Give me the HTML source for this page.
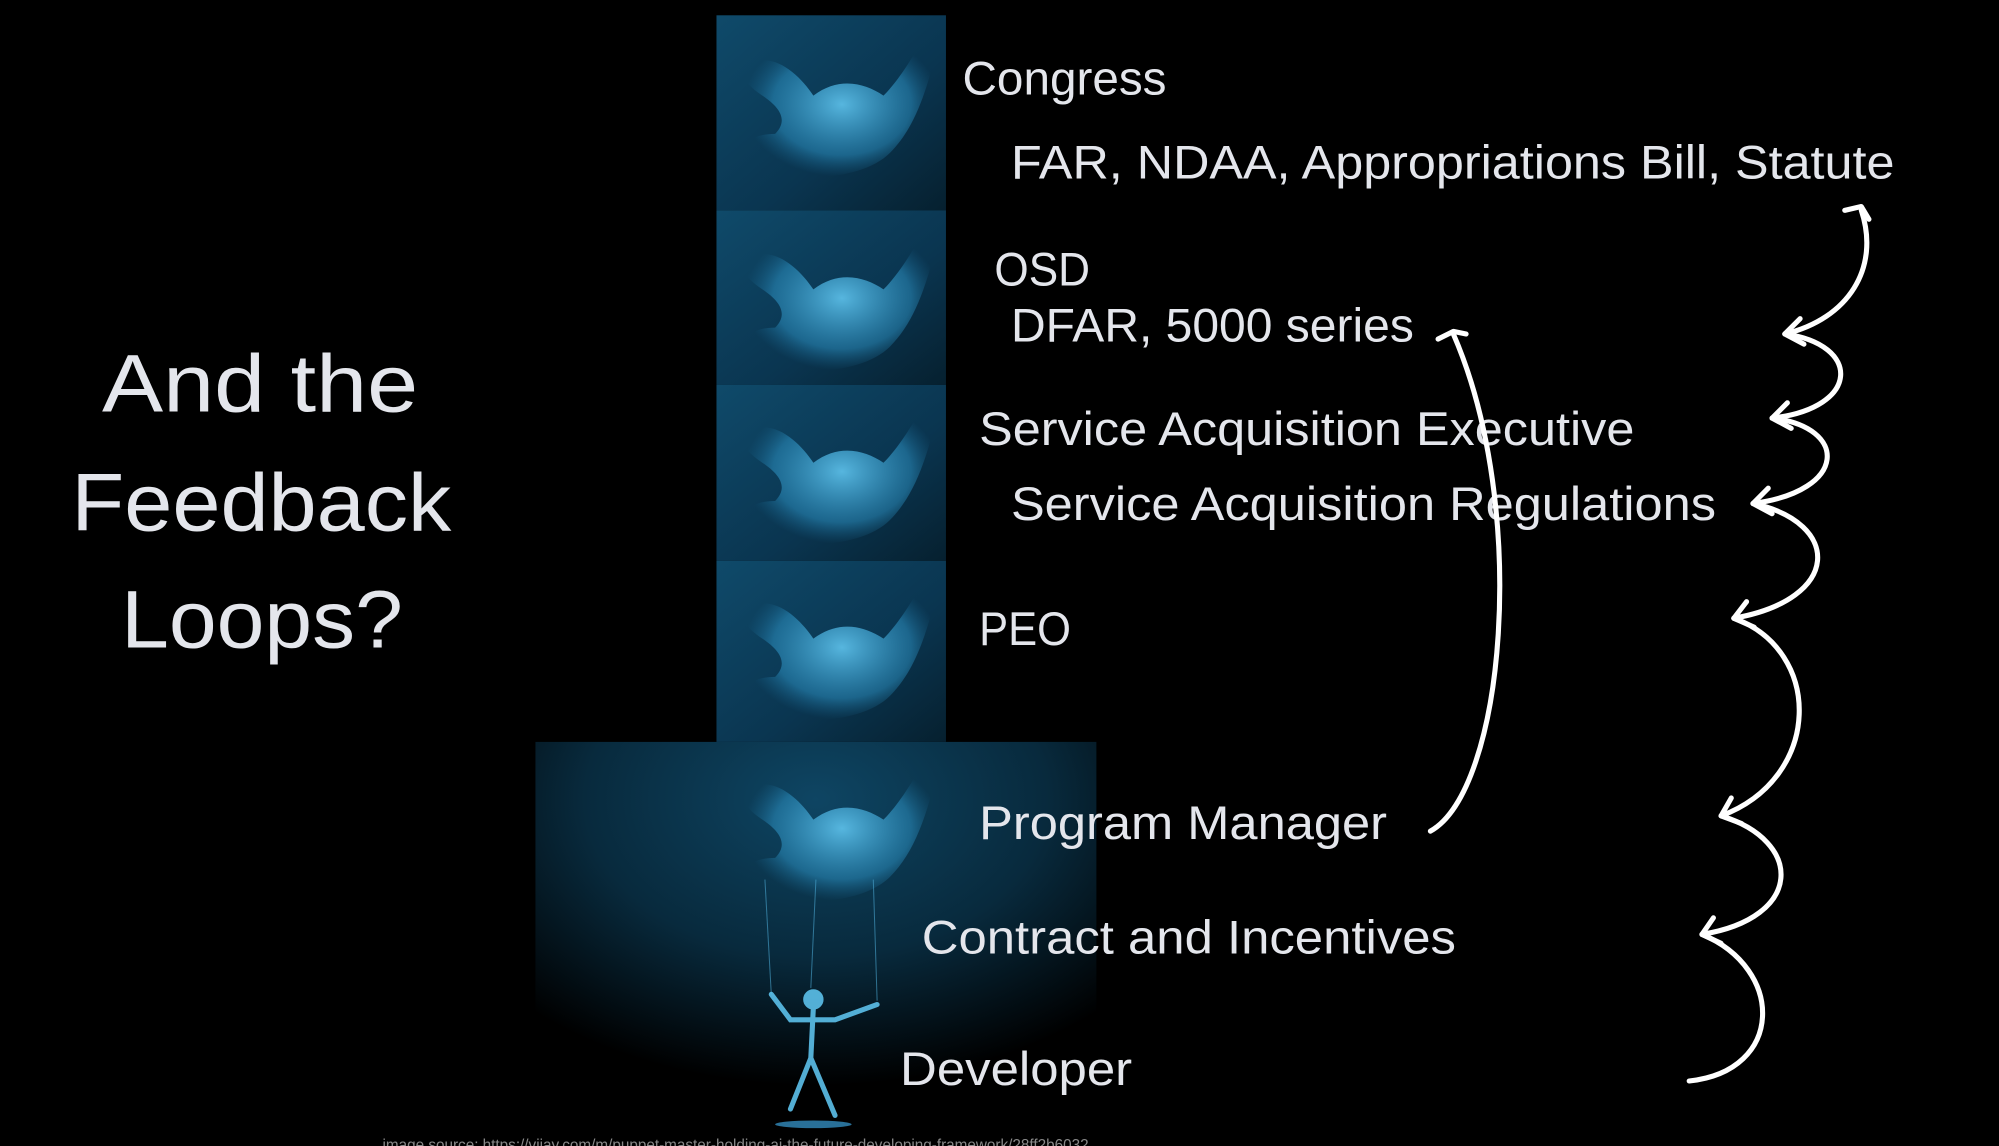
<!DOCTYPE html>
<html><head><meta charset="utf-8"><style>
html,body{margin:0;padding:0;background:#000;width:1999px;height:1146px;overflow:hidden}
svg{display:block}
text{font-family:"Liberation Sans",sans-serif;fill:#e4e6ec}
</style></head><body>
<svg width="1999" height="1146" viewBox="0 0 1568 899" preserveAspectRatio="none">
<defs>
<linearGradient id="tg" x1="0" y1="0" x2="1" y2="1">
<stop offset="0" stop-color="#0f4a6a"/><stop offset="0.6" stop-color="#0a3550"/><stop offset="1" stop-color="#06202f"/>
</linearGradient>
<radialGradient id="bg" cx="0.5" cy="0.15" r="0.75">
<stop offset="0" stop-color="#0e4563"/><stop offset="0.55" stop-color="#082a3d"/><stop offset="1" stop-color="#000"/>
</radialGradient>
<radialGradient id="hand" cx="0.5" cy="0.5" r="0.5">
<stop offset="0" stop-color="#5fc4ee" stop-opacity="0.9"/><stop offset="0.7" stop-color="#2b8fc0" stop-opacity="0.55"/><stop offset="1" stop-color="#1a6a95" stop-opacity="0"/>
</radialGradient>
<g id="hd">
<path d="M20,30 C40,20 60,40 70,55 C90,40 110,45 125,55 C140,40 150,20 160,5 L170,5 C160,50 150,80 130,100 C110,120 60,125 25,110 C10,100 15,85 40,85 C50,75 45,65 30,55 C15,45 10,35 20,30 Z" fill="url(#hand)"/>
</g>
</defs>
<rect x="420" y="582" width="440" height="300" fill="url(#bg)"/>
<rect x="562" y="12" width="180" height="153" fill="url(#tg)"/>
<rect x="562" y="165" width="180" height="137" fill="url(#tg)"/>
<rect x="562" y="302" width="180" height="138" fill="url(#tg)"/>
<rect x="562" y="440" width="180" height="142" fill="url(#tg)"/>
<use href="#hd" x="568" y="20"/>
<use href="#hd" x="568" y="172"/>
<use href="#hd" x="568" y="308"/>
<use href="#hd" x="568" y="446"/>
<use href="#hd" x="568" y="588"/>
<g stroke="#4aa6d0" stroke-width="0.8" opacity="0.6">
<line x1="600" y1="690" x2="605" y2="780"/><line x1="640" y1="690" x2="636" y2="775"/><line x1="685" y1="690" x2="688" y2="785"/>
</g>
<g stroke="#5cc0ea" stroke-width="4" stroke-linecap="round" fill="none" opacity="0.9">
<circle cx="638" cy="784" r="6" fill="#5cc0ea"/>
<path d="M638,790 L636,830 M605,780 L620,800 L655,800 L688,788 M636,830 L620,870 M636,830 L655,875"/>
</g>
<ellipse cx="638" cy="882" rx="30" ry="3" fill="#3aa0d8" opacity="0.7"/>
<g font-size="64">
<text x="80" y="323" textLength="248" lengthAdjust="spacingAndGlyphs">And the</text>
<text x="56" y="416" textLength="298" lengthAdjust="spacingAndGlyphs">Feedback</text>
<text x="95" y="508" textLength="221" lengthAdjust="spacingAndGlyphs">Loops?</text>
</g>
<g font-size="37">
<text x="755" y="74" textLength="160" lengthAdjust="spacingAndGlyphs">Congress</text>
<text x="793" y="140" textLength="693" lengthAdjust="spacingAndGlyphs">FAR, NDAA, Appropriations Bill, Statute</text>
<text x="780" y="224" textLength="75" lengthAdjust="spacingAndGlyphs">OSD</text>
<text x="793" y="268" textLength="316" lengthAdjust="spacingAndGlyphs">DFAR, 5000 series</text>
<text x="768" y="349" textLength="514" lengthAdjust="spacingAndGlyphs">Service Acquisition Executive</text>
<text x="793" y="408" textLength="553" lengthAdjust="spacingAndGlyphs">Service Acquisition Regulations</text>
<text x="768" y="506" textLength="72" lengthAdjust="spacingAndGlyphs">PEO</text>
<text x="768" y="658" textLength="320" lengthAdjust="spacingAndGlyphs">Program Manager</text>
<text x="723" y="748" textLength="419" lengthAdjust="spacingAndGlyphs">Contract and Incentives</text>
<text x="706" y="851" textLength="182" lengthAdjust="spacingAndGlyphs">Developer</text>
</g>
<text x="300" y="902" font-size="12" style="fill:#888">image source: https://vijay.com/m/puppet-master-holding-ai-the-future-developing-framework/28ff2b6032</text>
<g stroke="#fff" stroke-width="4" fill="none" stroke-linecap="round" stroke-linejoin="round">
<path d="M1122,652 C1180,620 1200,400 1140,262"/>
<path d="M1128,266 L1140,260 L1150,262"/>
<path d="M1400,262 C1450,250 1475,210 1460,165"/>
<path d="M1447,165 L1460,162 L1466,172"/>
<path d="M1390,328 C1460,320 1460,270 1400,262"/>
<path d="M1375,395 C1450,385 1450,335 1390,328"/>
<path d="M1360,485 C1445,470 1445,410 1375,395"/>
<path d="M1350,640 C1430,610 1430,510 1360,485"/>
<path d="M1335,733 C1415,720 1415,660 1350,640"/>
<path d="M1325,848 C1400,840 1400,760 1335,733"/>
<path d="M1412,250 L1400,262 L1415,270"/>
<path d="M1402,316 L1390,328 L1405,336"/>
<path d="M1387,383 L1375,395 L1390,403"/>
<path d="M1370,472 L1360,485 L1376,492"/>
<path d="M1358,626 L1350,640 L1366,646"/>
<path d="M1344,720 L1335,733 L1350,740"/>
</g>
</svg>
</body></html>
